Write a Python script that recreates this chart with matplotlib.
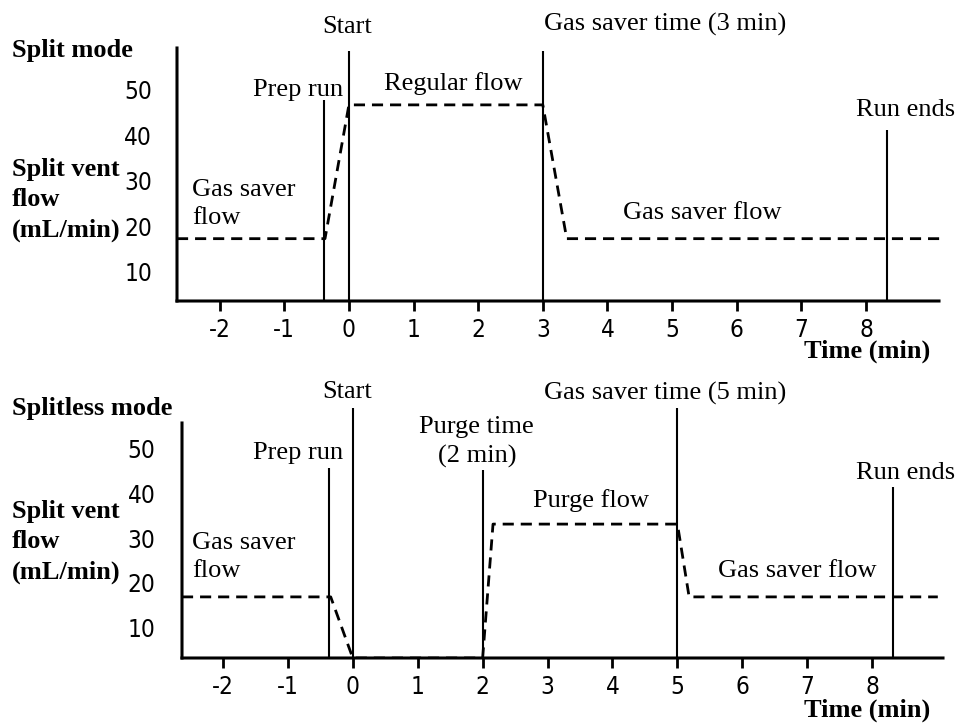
import matplotlib
matplotlib.use("Agg")
import matplotlib.pyplot as plt

plt.rcParams["axes.unicode_minus"] = False

# tick values
time_ticks = [-2, -1, 0, 1, 2, 3, 4, 5, 6, 7, 8]
flow_ticks = [10, 20, 30, 40, 50]

# split mode: vent flow profile
split_t = [-2.66, -0.37, 0.0, 3.0, 3.37, 9.18]
split_flow = [17.3, 17.3, 46.7, 46.7, 17.3, 17.3]
split_events = [-0.39, 0.0, 3.0, 8.33]
split_event_tops = [47.8, 58.5, 58.5, 41.2]

# splitless mode
splitless_t = [-2.63, -0.34, 0.0, 2.0, 2.16, 5.0, 5.18, 9.01]
splitless_flow = [16.9, 16.9, 3.3, 3.3, 33.1, 33.1, 16.9, 16.9]
splitless_events = [-0.37, 0.0, 2.0, 5.0, 8.32]
splitless_event_tops = [45.6, 58.9, 45.1, 58.9, 41.3]

serif = "Liberation Serif"
FS = 19

W, H = 958, 723
fig = plt.figure(figsize=(W / 100, H / 100), dpi=100)


def frac(px, py):
    return px / W, 1 - py / H


def setup(ax, xlim, ylim, pad):
    ax.set_xlim(*xlim)
    ax.set_ylim(*ylim)
    for s in ["top", "right"]:
        ax.spines[s].set_visible(False)
    for s in ["left", "bottom"]:
        ax.spines[s].set_linewidth(2.2)
        ax.spines[s].set_snap(False)
    ax.set_xticks(time_ticks)
    ax.set_yticks(flow_ticks)
    ax.tick_params(axis="x", direction="out", length=7, width=2.0, pad=5)
    ax.tick_params(axis="y", length=0, pad=pad)
    for lab in ax.get_xticklabels() + ax.get_yticklabels():
        lab.set_fontfamily("DejaVu Sans")
        lab.set_fontstretch("condensed")
        lab.set_fontsize(17.5)
    ax.patch.set_alpha(0)


def txt(ax, x, y, s, ha="center"):
    ax.text(x, y, s, ha=ha, va="center", fontsize=FS, family=serif,
            linespacing=1.35, clip_on=False)


# --- top panel: split mode ---
l, b = frac(177, 301)
r, t = frac(939, 48)
ax1 = fig.add_axes([l, b, r - l, t - b])
setup(ax1, (-2.66, 9.13), (3.6, 59.2), 18)
ax1.plot(split_t, split_flow, color="black", lw=2.0, ls=(0, (4, 2.5)), clip_on=False)
ax1.vlines(split_events, 3.6, split_event_tops, color="black", lw=1.5, clip_on=False)
txt(ax1, -0.03, 63.8, "Start")
txt(ax1, -0.09, 50.0, "Prep run", ha="right")
txt(ax1, 1.61, 51.5, "Regular flow")
txt(ax1, 4.89, 64.3, "Gas saver time (3 min)")
txt(ax1, 8.62, 45.6, "Run ends")
txt(ax1, 5.47, 23.0, "Gas saver flow")
txt(ax1, -2.43, 24.9, "Gas saver\nflow", ha="left")

# --- bottom panel: splitless mode ---
l, b = frac(182, 658)
r, t = frac(943, 423)
ax2 = fig.add_axes([l, b, r - l, t - b])
setup(ax2, (-2.63, 9.09), (3.3, 55.6), 19)
# clipped so the zero-flow stretch hides under the time axis
ax2.plot(splitless_t, splitless_flow, color="black", lw=2.0, ls=(0, (4, 2.5)),
         zorder=1, snap=False)
ax2.vlines(splitless_events, 3.3, splitless_event_tops, color="black", lw=1.5, clip_on=False)
txt(ax2, -0.09, 62.4, "Start")
txt(ax2, -0.15, 48.9, "Prep run", ha="right")
txt(ax2, 1.91, 51.4, "Purge time\n(2 min)")
txt(ax2, 4.81, 62.2, "Gas saver time (5 min)")
txt(ax2, 3.67, 38.4, "Purge flow")
txt(ax2, 8.52, 44.4, "Run ends")
txt(ax2, 6.84, 22.7, "Gas saver flow")
txt(ax2, -2.48, 25.8, "Gas saver\nflow", ha="left")

# bold side labels
bold = dict(fontsize=FS, family=serif, fontweight="bold", va="center", ha="left")
fig.text(*frac(12, 50), "Split mode", **bold)
fig.text(*frac(12, 200), "Split vent\nflow\n(mL/min)", linespacing=1.4, **bold)
fig.text(*frac(12, 408), "Splitless mode", **bold)
fig.text(*frac(12, 542), "Split vent\nflow\n(mL/min)", linespacing=1.4, **bold)
fig.text(*frac(930, 351), "Time (min)", fontsize=FS, family=serif, fontweight="bold",
         ha="right", va="center")
fig.text(*frac(930, 710), "Time (min)", fontsize=FS, family=serif, fontweight="bold",
         ha="right", va="center")

fig.savefig("out.png", dpi=100)
